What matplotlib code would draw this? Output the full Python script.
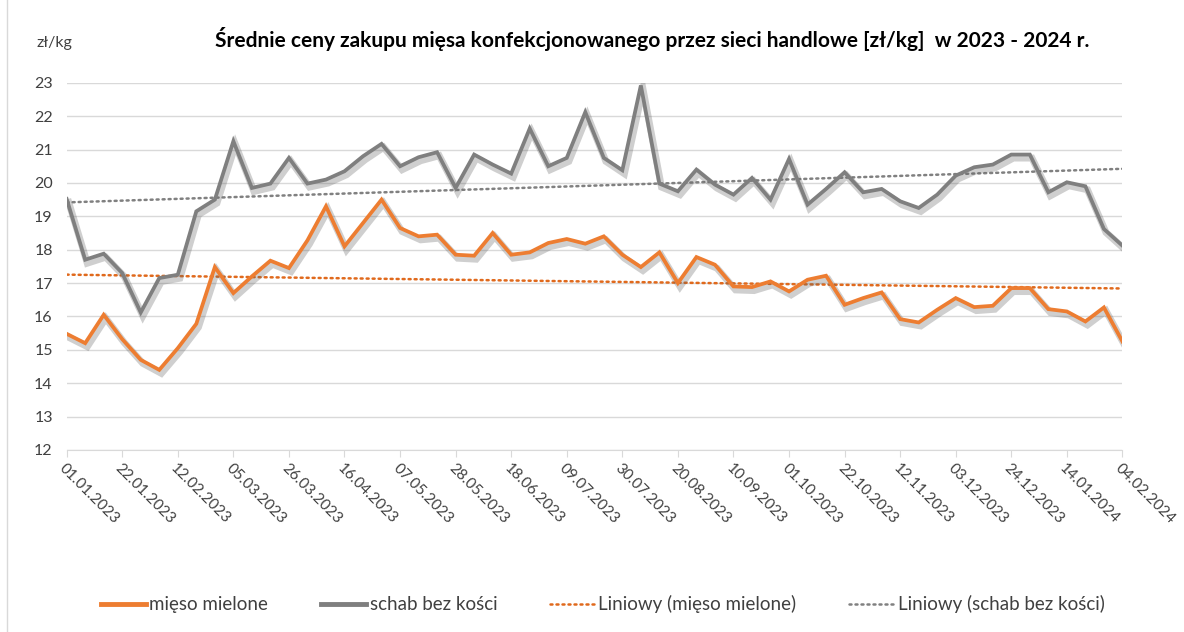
import numpy as np
from matplotlib import pyplot as plt
from matplotlib import patheffects as pe
from matplotlib.lines import Line2D

plt.rcParams['font.family'] = ['Lato', 'DejaVu Sans']

# tygodniowe notowania 01.01.2023 - 04.02.2024
week_labels = ['01.01.2023', '22.01.2023', '12.02.2023', '05.03.2023', '26.03.2023',
               '16.04.2023', '07.05.2023', '28.05.2023', '18.06.2023', '09.07.2023',
               '30.07.2023', '20.08.2023', '10.09.2023', '01.10.2023', '22.10.2023',
               '12.11.2023', '03.12.2023', '24.12.2023', '14.01.2024', '04.02.2024']

mieso_mielone = [15.48, 15.2, 16.05, 15.32, 14.7, 14.4, 15.05, 15.78, 17.48, 16.7,
                 17.2, 17.67, 17.45, 18.28, 19.3, 18.1, 18.8, 19.5, 18.65, 18.4,
                 18.45, 17.85, 17.82, 18.5, 17.85, 17.92, 18.2, 18.32, 18.18, 18.4,
                 17.85, 17.48, 17.92, 17.0, 17.78, 17.55, 16.9, 16.88, 17.05, 16.75,
                 17.1, 17.22, 16.35, 16.55, 16.72, 15.92, 15.82, 16.2, 16.55, 16.28,
                 16.32, 16.85, 16.85, 16.22, 16.15, 15.85, 16.27, 15.25]

schab_bez_kosci = [19.52, 17.7, 17.88, 17.3, 16.12, 17.15, 17.25, 19.15, 19.5, 21.25,
                   19.85, 19.98, 20.75, 19.98, 20.1, 20.35, 20.8, 21.17, 20.5, 20.77,
                   20.92, 19.85, 20.85, 20.55, 20.28, 21.63, 20.5, 20.75, 22.12, 20.75,
                   20.38, 22.92, 19.98, 19.75, 20.4, 19.95, 19.65, 20.15, 19.5, 20.72,
                   19.35, 19.82, 20.32, 19.72, 19.82, 19.45, 19.25, 19.65, 20.22, 20.47,
                   20.55, 20.85, 20.85, 19.72, 20.02, 19.9, 18.62, 18.12]

orange = '#ED7D31'
grey = '#7F7F7F'
trend_orange = '#E0691C'
trend_grey = '#808080'
dots = (0, (0.8, 1.6))

x = np.arange(len(mieso_mielone))

fig = plt.figure(figsize=(11.84, 6.32), dpi=100)
ax = fig.add_axes([0.0563, 0.288, 0.8917, 0.581])

shadow = [pe.SimpleLineShadow(offset=(1.5, -2.5), shadow_color='#606060', alpha=0.3, linewidth=5),
          pe.Normal()]

ax.plot(x, mieso_mielone, color=orange, lw=2.7, path_effects=shadow,
        solid_joinstyle='miter', zorder=4)
ax.plot(x, schab_bez_kosci, color=grey, lw=2.7, path_effects=shadow,
        solid_joinstyle='miter', zorder=4)

# linie trendu (regresja liniowa)
for series, col in [(mieso_mielone, trend_orange), (schab_bez_kosci, trend_grey)]:
    a, b = np.polyfit(x, series, 1)
    ax.plot(x, a * x + b, color=col, lw=1.8, linestyle=dots,
            dash_capstyle='round', zorder=3)

ax.set_xlim(0, len(x) - 1)
ax.set_ylim(12, 23)
ax.set_yticks(range(12, 24))
ax.set_xticks(x[::3])
ax.set_xticklabels(week_labels, rotation=-45, ha='left', va='top',
                   rotation_mode='anchor', fontsize=11, color='#404040')
ax.tick_params(axis='x', length=5, color='#D9D9D9', pad=3)
ax.tick_params(axis='y', length=0, labelsize=11.5, colors='#404040', pad=10)
ax.grid(axis='y', color='#D9D9D9', lw=1)
ax.set_axisbelow(True)
for s in ['top', 'right', 'left']:
    ax.spines[s].set_visible(False)
ax.spines['bottom'].set_color('#D9D9D9')

fig.text(0.031, 0.925, 'zł/kg', fontsize=11.5, color='#404040')
fig.text(0.551, 0.925, 'Średnie ceny zakupu mięsa konfekcjonowanego przez sieci handlowe [zł/kg]  w 2023 - 2024 r.',
         ha='center', fontsize=15, fontweight='bold', color='black')

handles = [Line2D([], [], color=orange, lw=3.5),
           Line2D([], [], color=grey, lw=3.5),
           Line2D([], [], color=trend_orange, lw=1.8, linestyle=dots, dash_capstyle='round'),
           Line2D([], [], color=trend_grey, lw=1.8, linestyle=dots, dash_capstyle='round')]
labels = ['mięso mielone', 'schab bez kości', 'Liniowy (mięso mielone)', 'Liniowy (schab bez kości)']
fig.legend(handles, labels, loc='lower center', bbox_to_anchor=(0.509, 0.003), ncol=4,
           frameon=False, fontsize=13.5, handlelength=2.4, columnspacing=2.8,
           handletextpad=0.2, labelcolor='#404040')

fig.add_artist(Line2D([0.006, 0.006], [0, 1], color='#D9D9D9', lw=1))

fig.savefig('out.png', dpi=100)
